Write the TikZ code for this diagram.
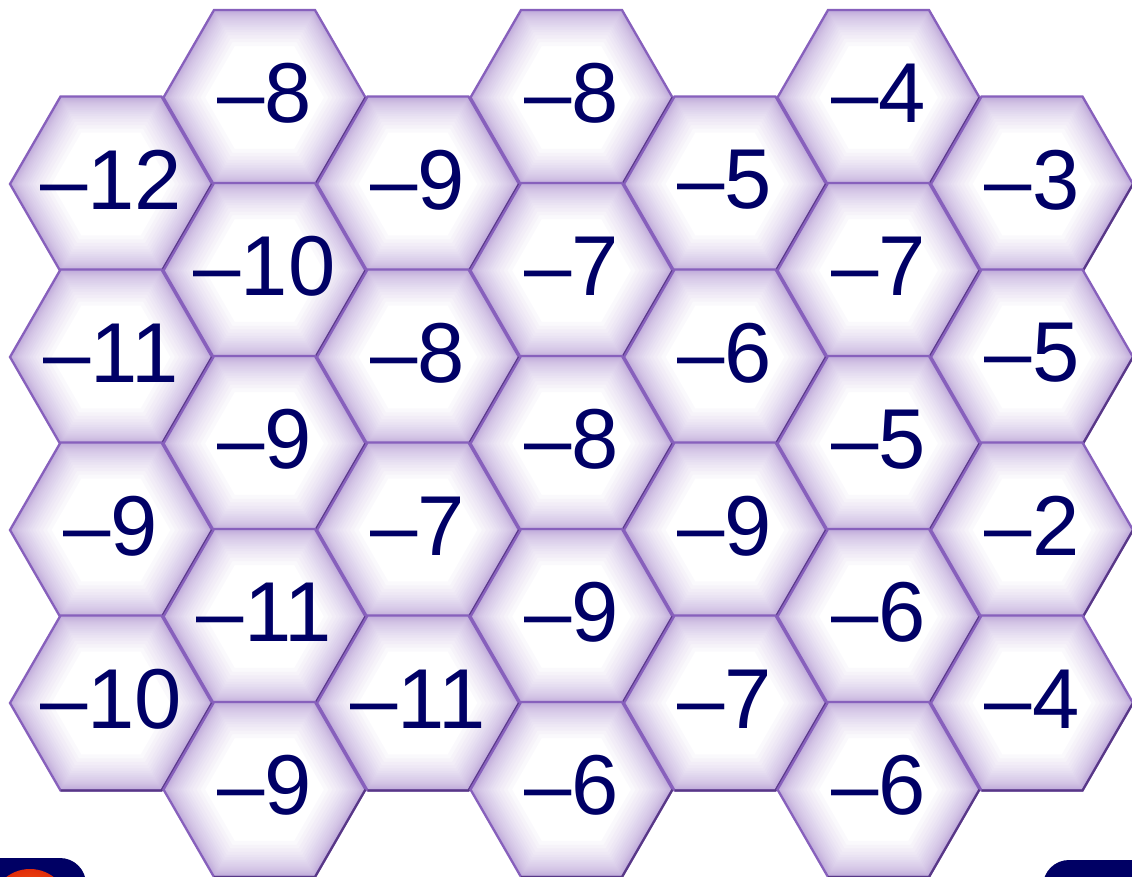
\documentclass[tikz,border=0pt]{standalone}
\usepackage{fontspec}
\setmainfont{Liberation Sans}
\usetikzlibrary{shapes.geometric}
\definecolor{glow}{RGB}{150,110,200}
\definecolor{hexline}{RGB}{135,96,188}
\definecolor{hexdark}{RGB}{88,56,134}
\definecolor{numblue}{RGB}{0,0,102}
\definecolor{navy}{RGB}{0,0,100}
\definecolor{orng}{RGB}{255,120,20}
\definecolor{orred}{RGB}{225,45,10}
\tikzset{
  hexcell/.style={regular polygon, regular polygon sides=6, minimum size=202pt, inner sep=0pt, outer sep=0pt, fill=white},
  glowband/.style={draw=glow, draw opacity=0.04, line join=miter},
  hexborder/.style={draw=hexline, line width=2.3pt, line join=miter},
  numtext/.style={text=numblue, font=\fontsize{85}{85}\selectfont, inner sep=0pt},
  darkedge/.style={draw=hexdark, line width=2.1pt}
}
\begin{document}
\begin{tikzpicture}[x=1pt,y=-1pt]
\useasboundingbox (0,0) rectangle (1132,877);
\clip (0,0) rectangle (1132,877);
\fill[white] (0,0) rectangle (1132,877);
% columns
\foreach \c/\labs in {0/{12,11,9,10},1/{8,10,9,11,9},2/{9,8,7,11},3/{8,7,8,9,6},4/{5,6,9,7},5/{4,7,5,6,6},6/{3,5,2,4}}{
  \pgfmathsetmacro{\xx}{111+153.5*\c}
  \pgfmathsetmacro{\ystart}{isodd(\c) ? 97.5 : 184}
  \foreach \v [count=\r from 0] in \labs {
    \pgfmathsetmacro{\yy}{\ystart+173*\r}
    \node[hexcell] (h-\c-\r) at (\xx,\yy) {};
    \begin{scope}
      \clip (h-\c-\r.corner 1) -- (h-\c-\r.corner 2) -- (h-\c-\r.corner 3) -- (h-\c-\r.corner 4) -- (h-\c-\r.corner 5) -- (h-\c-\r.corner 6) -- cycle;
      \foreach \w in {72,64,57,50,44,39,34,30,26,22,19,16,13,11,9,7,5.5,4,3,2} {
        \draw[glowband, line width=\w pt] (h-\c-\r.corner 1) -- (h-\c-\r.corner 2) -- (h-\c-\r.corner 3) -- (h-\c-\r.corner 4) -- (h-\c-\r.corner 5) -- (h-\c-\r.corner 6) -- cycle;
      }
    \end{scope}
    \draw[hexborder] (h-\c-\r.corner 1) -- (h-\c-\r.corner 2) -- (h-\c-\r.corner 3) -- (h-\c-\r.corner 4) -- (h-\c-\r.corner 5) -- (h-\c-\r.corner 6) -- cycle;
    \draw[darkedge] (h-\c-\r.corner 4) -- (h-\c-\r.corner 5) -- (h-\c-\r.corner 6);
    \node[numtext] (t-\c-\r) at (\xx,\yy-4) {–\v};
  }
}
% bottom partial controls
\fill[navy, rounded corners=26pt] (-40,858) rectangle (86,920);
\shade[inner color=orng, outer color=orred] (30,908) circle (39);
\fill[navy, rounded corners=26pt] (1043,860) rectangle (1180,920);
\end{tikzpicture}
\end{document}
